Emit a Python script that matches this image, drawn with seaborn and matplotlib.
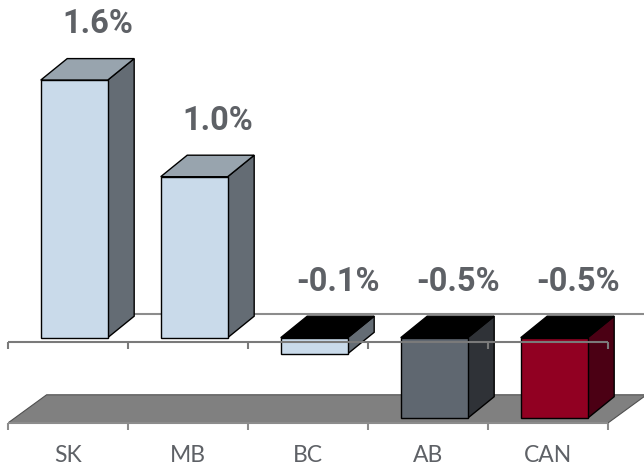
import matplotlib
matplotlib.use("Agg")
import matplotlib.pyplot as plt
from matplotlib.patches import Polygon
import seaborn as sns
import pandas as pd

# ---- data ----
regions = ["SK", "MB", "BC", "AB", "CAN"]
growth = [1.6, 1.0, -0.1, -0.5, -0.5]
axis_min = -0.5

# ---- styles ----
front_colors = ["#C9DAEA", "#C9DAEA", "#C9DAEA", "#5F6770", "#910022"]
side_colors = ["#646C74", "#646C74", "#646C74", "#2F3237", "#4B0014"]
top_pos_color = "#98A4AE"
top_neg_color = "#000000"
text_color = "#5E6166"

sns.set_theme(style="white")
plt.rcParams["font.family"] = ["Roboto", "DejaVu Sans"]

W, H, DPI = 644, 467, 100
fig = plt.figure(figsize=(W / DPI, H / DPI), dpi=DPI)
ax = fig.add_axes([0, 0, 1, 1])

# pixel scale of data
PX_X = 1 / 120.0   # category units per pixel
PX_Y = 1 / 161.0   # value units per pixel

df = pd.DataFrame({"region": regions, "growth": growth})
sns.barplot(data=df, x="region", y="growth", hue="region", order=regions,
            hue_order=regions, palette=front_colors, legend=False, width=0.558,
            edgecolor="black", linewidth=1.0, saturation=1, ax=ax, zorder=3)
ax.set_xlim(-74.2 * PX_X, (W - 74.2) * PX_X)
ax.set_ylim((337.7 - H) * PX_Y, 337.7 * PX_Y)
ax.axis("off")

# depth offsets
bdx, bdy = 26.5 * PX_X, 21.5 * PX_Y      # bar depth
fdx, fdy = -6 * PX_X, -4.6 * PX_Y        # front plane relative to bar fronts
wdx, wdy = 38.4 * PX_X, 28.0 * PX_Y      # back plane relative to front plane

n = len(regions)
x_left = -0.5 + fdx
x_right = n - 0.5 + fdx

# back wall zero line
ax.plot([x_left + wdx, x_right + wdx], [fdy + wdy, fdy + wdy],
        color="#8C8C8C", lw=1.5, zorder=0.5, solid_capstyle="butt")

# floor at axis minimum
yf = axis_min + fdy
floor = Polygon([(x_left, yf), (x_right, yf), (x_right + wdx, yf + wdy),
                 (x_left + wdx, yf + wdy)], closed=True,
                facecolor="#808080", edgecolor="#505050", lw=0.8, zorder=1)
ax.add_patch(floor)

# 3D faces of bars
bars = sorted([p for p in ax.patches if p is not floor], key=lambda p: p.get_x())
for i, p in enumerate(bars):
    x0 = p.get_x()
    x1 = x0 + p.get_width()
    y_a = p.get_y()
    y_b = y_a + p.get_height()
    top, bot = max(y_a, y_b), min(y_a, y_b)
    v = growth[i]
    side = Polygon([(x1, bot), (x1, top), (x1 + bdx, top + bdy), (x1 + bdx, bot + bdy)],
                   closed=True, facecolor=side_colors[i], edgecolor="black", lw=1.0, zorder=2)
    tcol = top_pos_color if v > 0 else top_neg_color
    topf = Polygon([(x0, top), (x1, top), (x1 + bdx, top + bdy), (x0 + bdx, top + bdy)],
                   closed=True, facecolor=tcol, edgecolor="black", lw=1.0, zorder=2)
    ax.add_patch(side)
    ax.add_patch(topf)
    cx = x0 + p.get_width() / 2
    ax.annotate(f"{v:.1f}%", xy=(cx, top), xytext=(24, 47), textcoords="offset pixels",
                ha="center", va="baseline", fontsize=23.5, fontweight="bold",
                color=text_color, zorder=6)

# front category axis line at zero, and front floor edge, with ticks
tick_len = 7 * PX_Y
for yline, col in [(0 + fdy, "#7A7A7A"), (yf, "#8C8C8C")]:
    ax.plot([x_left, x_right], [yline, yline], color=col, lw=1.5, zorder=5,
            solid_capstyle="butt")
    for k in range(n + 1):
        xt = -0.5 + k + fdx
        ax.plot([xt, xt], [yline, yline - tick_len], color=col, lw=1.5, zorder=5,
                solid_capstyle="butt")

# category labels
for i, r in enumerate(regions):
    ax.text(i + fdx, (337.7 - 461.7) * PX_Y, r, ha="center", va="baseline",
            fontsize=16.5, color=text_color, family=["Lato", "DejaVu Sans"], zorder=6)

fig.savefig("out.png", dpi=DPI)
